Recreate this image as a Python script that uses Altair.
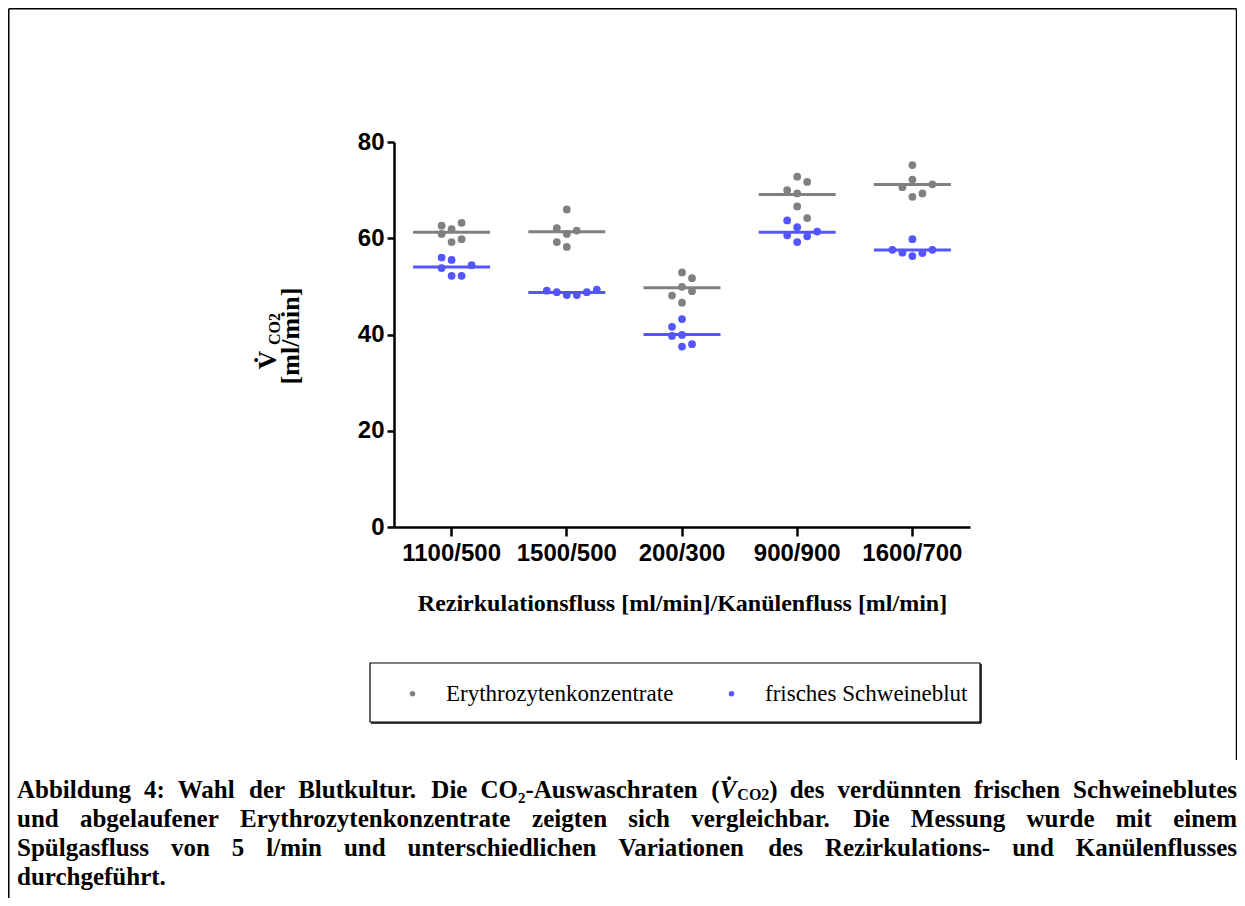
import altair as alt
import pandas as pd

categories = ["1100/500", "1500/500", "200/300", "900/900", "1600/700"]
series = ["Erythrozytenkonzentrate", "frisches Schweineblut"]
colors = ["#808080", "#5555ff"]

# measured values (ml/min) per category, Erythrozytenkonzentrate
ery_values = [
    [62.6, 63.2, 61.9, 60.9, 59.8, 59.2],
    [66.0, 62.1, 61.6, 60.9, 59.2, 58.2],
    [52.9, 51.7, 49.9, 49.0, 48.1, 46.6],
    [72.8, 71.7, 70.0, 69.3, 66.6, 64.2],
    [75.2, 72.2, 71.2, 70.6, 69.3, 68.6],
]
# beeswarm column index of each point
ery_slots = [
    [-1, 1, 0, -1, 1, 0],
    [0, -1, 1, 0, -1, 0],
    [0, 1, 0, 1, -1, 0],
    [0, 1, -1, 0, 0, 1],
    [0, 0, 2, -1, 1, 0],
]
# frisches Schweineblut
blut_values = [
    [56.0, 55.5, 53.8, 54.4, 52.2, 52.2],
    [49.1, 48.8, 48.2, 48.2, 48.8, 49.3],
    [43.2, 41.6, 39.7, 39.9, 38.0, 37.5],
    [63.7, 62.3, 61.4, 60.6, 60.4, 59.2],
    [59.8, 57.6, 57.0, 56.3, 56.9, 57.6],
]
blut_slots = [
    [-1, 0, -1, 2, 0, 1],
    [-2, -1, 0, 1, 2, 3],
    [0, -1, -1, 0, 1, 0],
    [-1, 0, 2, -1, 1, 0],
    [0, -2, -1, 0, 1, 2],
]

y_ticks = [0, 20, 40, 60, 80]
x_title = "Rezirkulationsfluss [ml/min]/Kanülenfluss [ml/min]"
# caption; "§" marks the inline symbol (V̇CO2)
caption_lines = [
    "Abbildung 4: Wahl der Blutkultur. Die CO₂-Auswaschraten § des verdünnten frischen Schweineblutes",
    "und abgelaufener Erythrozytenkonzentrate zeigten sich vergleichbar. Die Messung wurde mit einem",
    "Spülgasfluss von 5 l/min und unterschiedlichen Variationen des Rezirkulations- und Kanülenflusses",
    "durchgeführt.",
]
caption_justify = [True, True, True, False]

rows = []
for ci, cat in enumerate(categories):
    for v, s in zip(ery_values[ci], ery_slots[ci]):
        rows.append(dict(cat=cat, series=series[0], value=v, slot=s))
    for v, s in zip(blut_values[ci], blut_slots[ci]):
        rows.append(dict(cat=cat, series=series[1], value=v, slot=s))
df = pd.DataFrame(rows)

W, H = 576, 385
X0, Y0 = 394, 142  # page position of plot origin


def px(x):
    return x - X0


def py(y):
    return y - Y0


xenc = alt.X(
    "cat:N",
    sort=categories,
    scale=alt.Scale(paddingInner=0, paddingOuter=0),
    axis=alt.Axis(
        title=x_title,
        labelAngle=0,
        labelFont="Liberation Sans",
        labelFontWeight="bold",
        labelFontSize=24,
        labelColor="black",
        labelPadding=5,
        tickSize=9,
        tickWidth=2.5,
        tickColor="black",
        domainColor="black",
        domainWidth=2.5,
        titleFont="Liberation Serif",
        titleFontWeight="bold",
        titleFontSize=24,
        titleColor="black",
        titleBaseline="middle",
        titleY=76,
    ),
)
yenc_scale = alt.Scale(domain=[0, 80], nice=False, zero=True)
yaxis = alt.Axis(
    title=None,
    values=y_ticks,
    grid=False,
    labelFont="Liberation Sans",
    labelFontWeight="bold",
    labelFontSize=24,
    labelColor="black",
    labelPadding=3,
    tickSize=7,
    tickWidth=2.5,
    tickColor="black",
    domainColor="black",
    domainWidth=2.5,
)

means = alt.Chart(df).mark_tick(thickness=3, size=77, opacity=1).encode(
    x=xenc,
    y=alt.Y("mean(value):Q", scale=yenc_scale, axis=yaxis),
    color=alt.Color("series:N", scale=alt.Scale(domain=series, range=colors), legend=None),
)

points = alt.Chart(df).mark_circle(size=60, opacity=1).encode(
    x=xenc,
    xOffset=alt.XOffset("slot:Q", scale=alt.Scale(domain=[-5.76, 5.76])),
    y=alt.Y("value:Q", scale=yenc_scale, axis=yaxis),
    color=alt.Color(
        "series:N",
        scale=alt.Scale(domain=series, range=colors),
        legend=alt.Legend(
            title=None,
            orient="none",
            direction="horizontal",
            legendX=px(401),
            legendY=py(682),
            labelFont="Liberation Serif",
            labelFontSize=23,
            labelColor="black",
            labelLimit=500,
            symbolType="circle",
            symbolSize=30,
            labelOffset=22,
            columnPadding=46,
            padding=0,
        ),
    ),
)

dummy = pd.DataFrame({"k": [0]})
deco = []
# legend frame
deco.append(alt.Chart(dummy).mark_rect(fill=None, stroke="black", strokeWidth=1.2).encode(
    x=alt.value(px(370)), x2=alt.value(px(980)), y=alt.value(py(663)), y2=alt.value(py(722))))
deco.append(alt.Chart(dummy).mark_rule(stroke="black", strokeWidth=1.5).encode(
    x=alt.value(px(371)), x2=alt.value(px(981)), y=alt.value(py(723))))
deco.append(alt.Chart(dummy).mark_rule(stroke="black", strokeWidth=1.5).encode(
    x=alt.value(px(981)), y=alt.value(py(664)), y2=alt.value(py(723))))
# outer frame
deco.append(alt.Chart(dummy).mark_rule(stroke="black", strokeWidth=1.5).encode(
    x=alt.value(px(8.75)), y=alt.value(py(8.75)), y2=alt.value(py(906))))
deco.append(alt.Chart(dummy).mark_rule(stroke="black", strokeWidth=1.5).encode(
    x=alt.value(px(8.75)), x2=alt.value(px(1236.5)), y=alt.value(py(8.75))))
deco.append(alt.Chart(dummy).mark_rule(stroke="black", strokeWidth=1.5).encode(
    x=alt.value(px(1236.5)), y=alt.value(py(8.75)), y2=alt.value(py(760))))


def txt(text, x, y, size, weight="bold", angle=0, align="center", style="normal",
        font="Liberation Serif", baseline="middle"):
    return alt.Chart(dummy).mark_text(
        text=text, font=font, fontSize=size, fontWeight=weight, angle=angle,
        align=align, baseline=baseline, color="black", fontStyle=style,
    ).encode(x=alt.value(px(x)), y=alt.value(py(y)))


# y axis title
deco.append(txt("V̇", 268, 360, 26, angle=270))
deco.append(txt("CO2", 275, 329, 16, angle=270))
deco.append(txt("[ml/min]", 291, 336, 26, angle=270))

# Times-Bold advance widths (per 1000 em) for caption layout
TB = {" ": 250, "(": 333, ")": 333, "-": 333, ".": 250, "/": 278, ":": 333, "₂": 330}
TB.update({d: 500 for d in "0123456789"})
TB.update(dict(A=722, B=667, C=722, D=722, E=667, K=778, M=944, O=778, R=722, S=556, V=722, W=1000))
TB.update(dict(a=500, b=556, c=444, d=556, e=444, f=333, g=500, h=556, i=278, j=333, k=556, l=278,
               m=833, n=556, o=500, p=556, q=556, r=444, s=389, t=333, u=556, v=500, w=722,
               x=500, y=500, z=444))
TB.update({"ü": 556, "ä": 500, "ö": 500})

cap_size = 25
sub_size = 16
L, R = 17, 1237
cap_y = [790, 819, 848, 877]


def wwidth(word):
    if word == "§":
        return (333 + 667 + 333) * cap_size / 1000 + 2000 * sub_size / 1000
    return sum(TB.get(ch, 500) for ch in word) * cap_size / 1000


for line, just, yy in zip(caption_lines, caption_justify, cap_y):
    words = line.split(" ")
    widths = [wwidth(w) for w in words]
    if just and len(words) > 1:
        gap = (R - L - sum(widths)) / (len(words) - 1)
    else:
        gap = 250 * cap_size / 1000
    xcur = L
    for i, (w, wd) in enumerate(zip(words, widths)):
        last = just and i == len(words) - 1
        if w == "§":
            x = xcur
            deco.append(txt("(", x, yy, cap_size, align="left"))
            x += 333 * cap_size / 1000
            deco.append(txt("V̇", x, yy, cap_size, align="left", style="italic"))
            x += 667 * cap_size / 1000 + 1
            deco.append(txt("CO2", x, yy + 5, sub_size, align="left"))
            x += 2000 * sub_size / 1000
            deco.append(txt(")", x, yy, cap_size, align="left"))
        elif last:
            deco.append(txt(w, R, yy, cap_size, align="right"))
        else:
            deco.append(txt(w, xcur, yy, cap_size, align="left"))
        xcur += wd + gap

chart = alt.layer(means, points, *deco).resolve_scale(color="independent").properties(
    width=W,
    height=H,
    autosize=alt.AutoSizeParams(type="none"),
    padding={"left": X0 - 8, "top": Y0 - 8, "right": 1229 - (X0 - 8) - W, "bottom": 890 - (Y0 - 8) - H},
    background="white",
).configure_view(stroke=None)

chart.save("out.html", embed_options={"renderer": "svg", "actions": False})
